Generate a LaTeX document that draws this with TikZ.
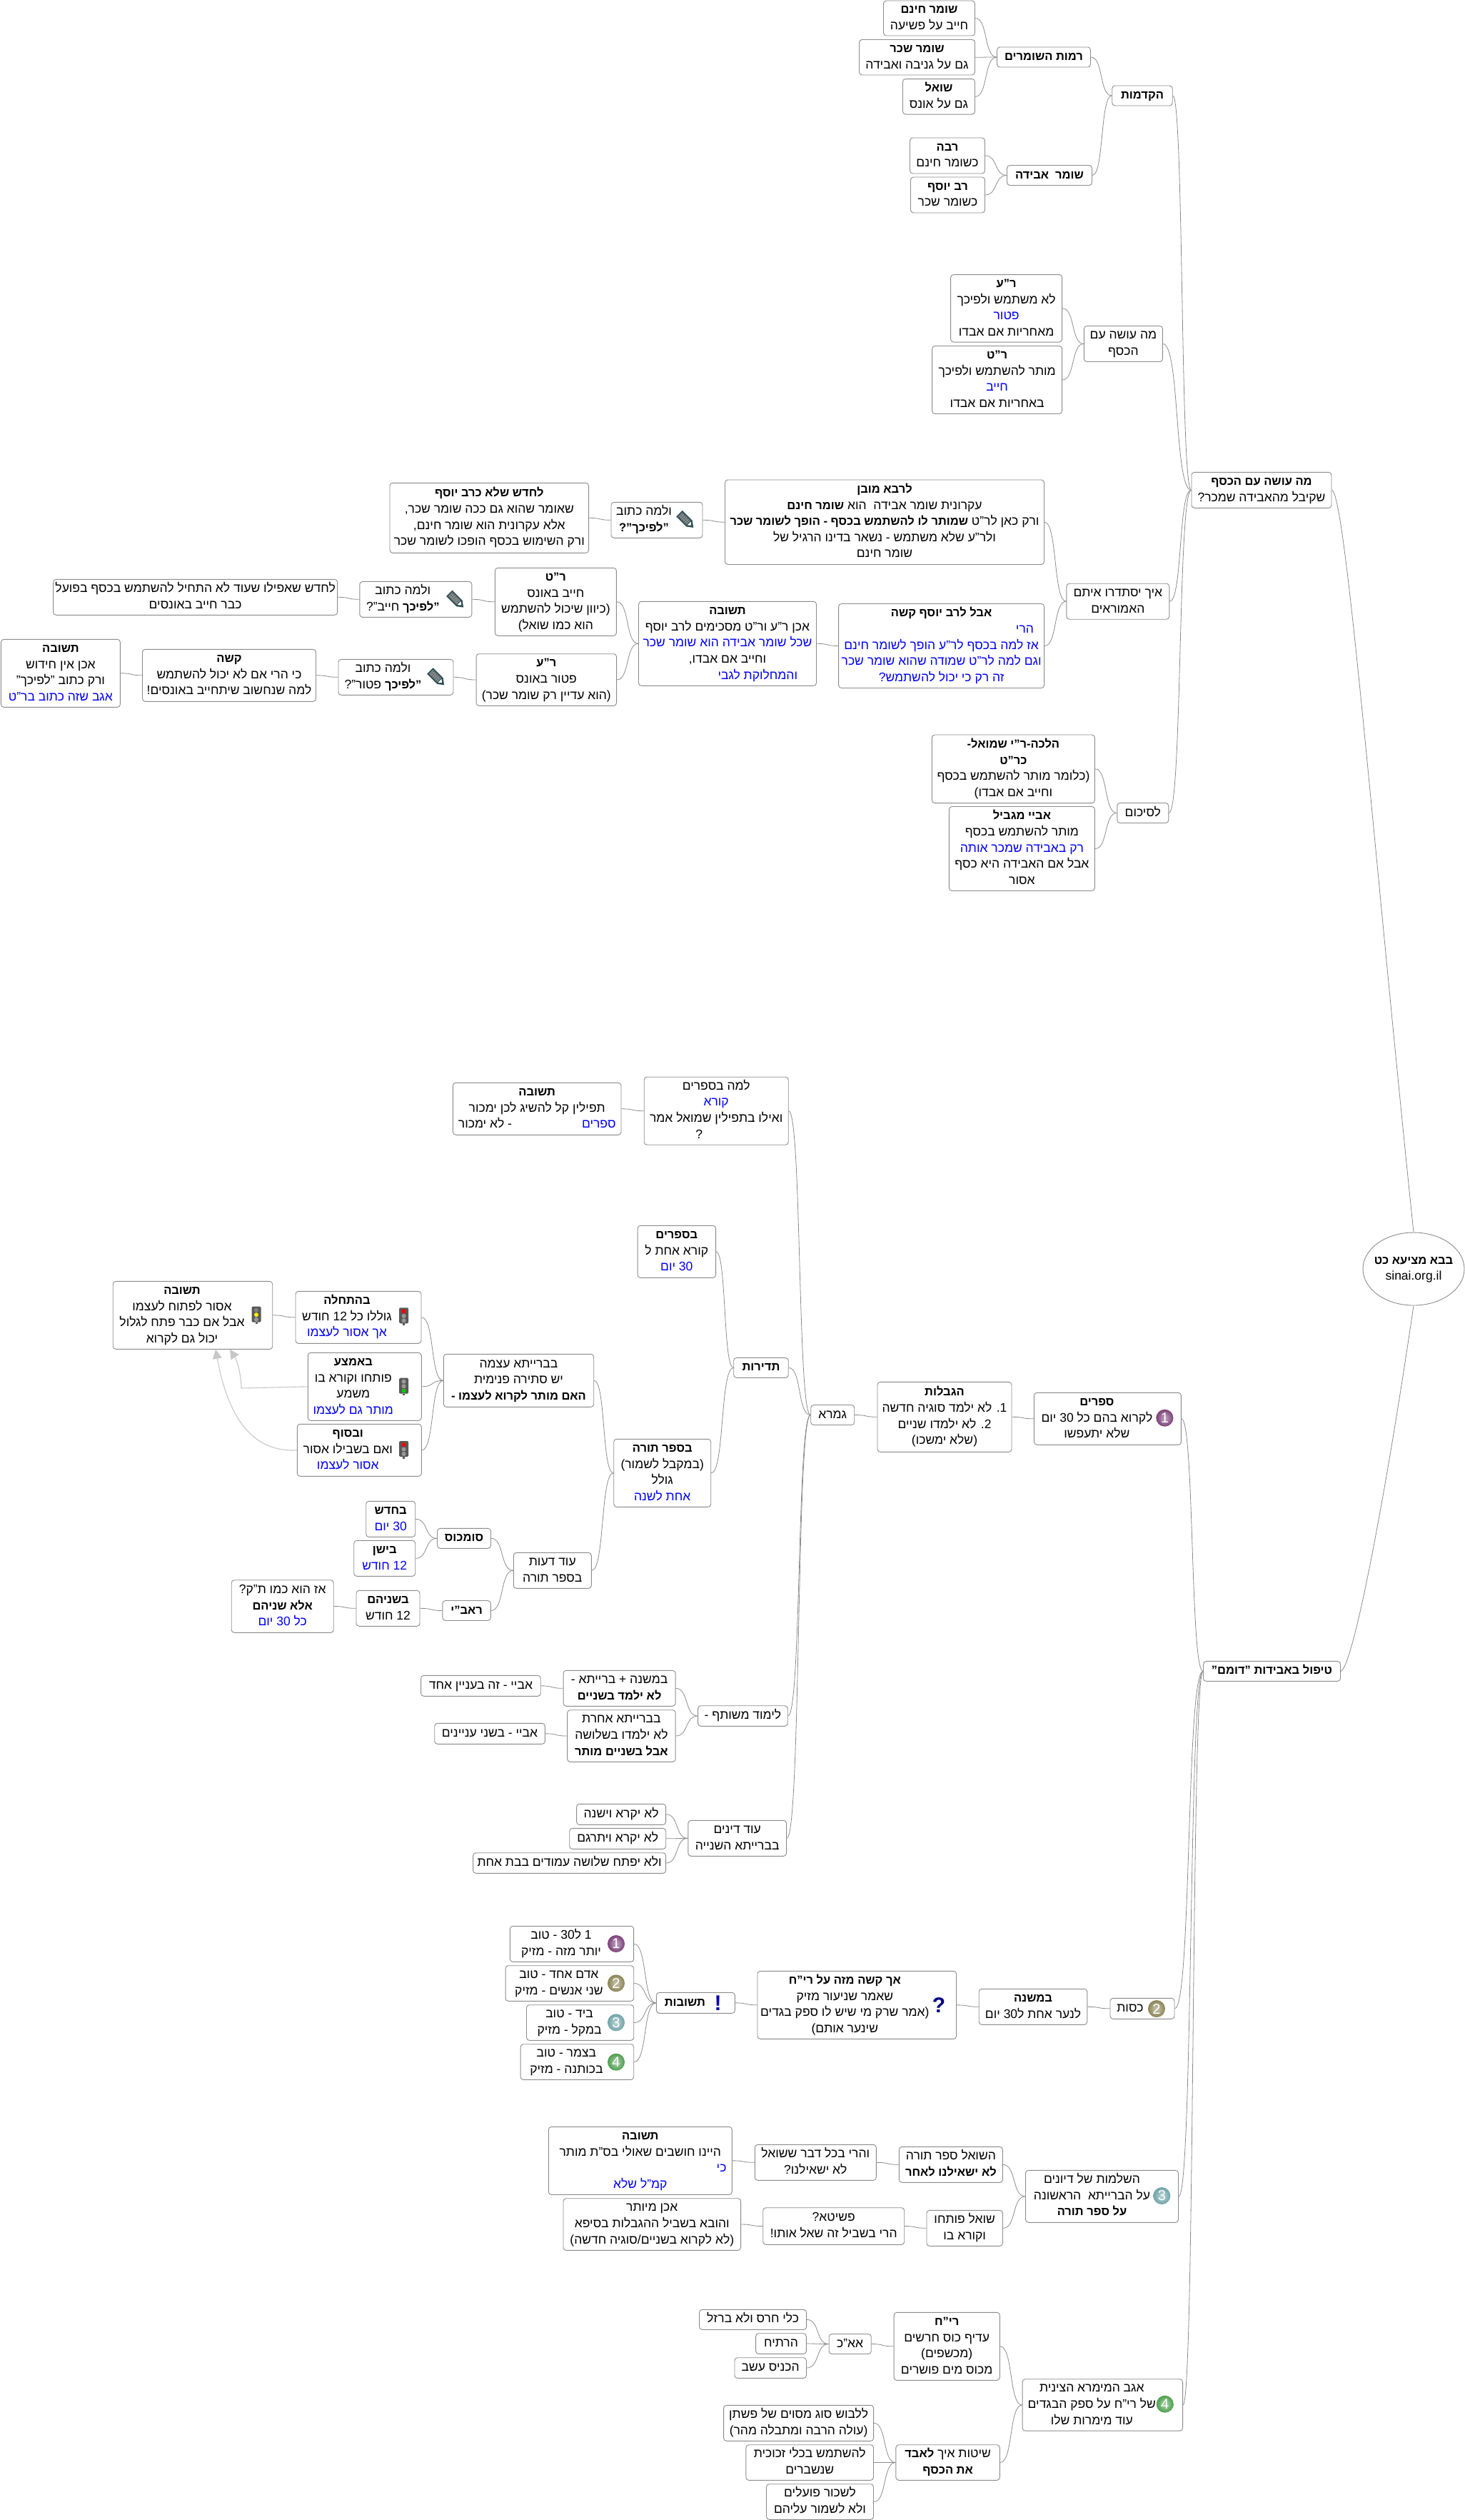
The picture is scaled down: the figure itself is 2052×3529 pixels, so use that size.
\documentclass[tikz,border=0pt]{standalone}
\usepackage{fontspec}
\setmainfont[Script=Hebrew]{Liberation Sans}
\usetikzlibrary{calc,arrows.meta,shapes.geometric}
\TeXXeTstate=1
\newcommand{\bo}[1]{{\fontsize{16.5}{22.6}\selectfont\bfseries #1}}
\newcommand{\rl}[1]{\strut\beginR #1\endR}
\newcommand{\rlb}[1]{\rl{\bo{#1}}}
\newcommand{\rlc}[1]{\strut\textcolor{blue}{\beginR #1\endR}}
\newcommand{\bl}[1]{\hbox{\textcolor{blue}{\beginR #1\endR}}}
\newcommand{\iconpad}[2]{\begin{tabular}{@{}c@{}}#2\end{tabular}\hspace*{#1pt}}
\definecolor{linkgray}{HTML}{8C8C8C}
\definecolor{ballone}{HTML}{7A3F78}
\definecolor{balltwo}{HTML}{8A8455}
\definecolor{ballthree}{HTML}{6FA3A8}
\definecolor{ballfour}{HTML}{4E9E4E}
\definecolor{pencildark}{HTML}{2F4F55}
\tikzset{
  topic/.style={draw=linkgray, fill=white, rounded corners=4pt, line width=0.9pt, inner sep=0pt, align=center, font=\fontsize{17.5}{22.6}\selectfont},
  sz/.style 2 args={minimum width=#1pt, minimum height=#2pt},
  link/.style={draw=linkgray, line width=0.8pt, to path={let \p1=(\tikztostart), \p2=(\tikztotarget), \n1={0.6*(\x2-\x1)} in .. controls (\x1+\n1,\y1) and (\x2-\n1,\y2) .. (\p2)}},
  backlink/.style={draw=black!22, line width=1.1pt, -{Triangle[length=13pt,width=13pt]}},
  bigmark/.style={inner sep=0pt, font=\bfseries\fontsize{30}{30}\selectfont},
  pics/numball/.style 2 args={code={
    \shade[inner color=#1!45!white, outer color=#1] (0,0) circle (12pt);
    \node[white, inner sep=0pt, font=\fontsize{20}{20}\selectfont] (-num) at (0,0) {#2};
  }},
  pics/trafficlight/.style n args={3}{code={
    \fill[black!65, rounded corners=1.5pt] (-6.5,-12) rectangle (6.5,10);
    \fill[black!65] (-1.5,10) rectangle (1.5,12.5);
    \fill[#1] (0,-7) circle (3pt);
    \fill[#2] (0,-0.5) circle (3pt);
    \fill[#3] (0,6) circle (3pt);
  }},
  pics/pencil/.style={code={
    \begin{scope}[rotate=45]
      \fill[pencildark] (-6,-13) -- (6,-13) -- (6,7) -- (0,15) -- (-6,7) -- cycle;
      \fill[black!45] (-4,-11) rectangle (4,5);
      \foreach \s in {-9,-6,...,3}{\draw[pencildark, line width=1pt, dash pattern=on 1.5pt off 1.5pt] (-4,\s)--(4,\s);}
      \fill[white] (-3.5,6.5) -- (3.5,6.5) -- (0,10.5) -- cycle;
    \end{scope}
  }}
}
\begin{document}
\begin{tikzpicture}[x=1pt,y=-1pt]
  \useasboundingbox (0,0) rectangle (2052,3529);
  \node[topic,sz={128}{49}] (shhinam) at (1301.5,25.5) {\rlb{שומר חינם}\\\rl{חייב על פשיעה}};
  \node[topic,sz={162}{49.5}] (shsakhar) at (1284.5,80.2) {\rlb{שומר שכר}\\\rl{גם על גניבה ואבידה}};
  \node[topic,sz={101}{49.5}] (shoel) at (1315,135.3) {\rlb{שואל}\\\rl{גם על אונס}};
  \node[topic,sz={131}{28}] (ramot) at (1462,80) {\rlb{רמות השומרים}};
  \node[topic,sz={84.5}{28}] (hakdamot) at (1600,134) {\rlb{הקדמות}};
  \node[topic,sz={105}{50}] (raba) at (1327,218) {\rlb{רבה}\\\rl{כשומר חינם}};
  \node[topic,sz={104}{50}] (ravyosef) at (1327.5,273) {\rlb{רב יוסף}\\\rl{כשומר שכר}};
  \node[topic,sz={119}{28}] (shomeraveda) at (1470,245.5) {\rlb{שומר\ \ אבידה}};
  \node[topic,sz={156}{94.5}] (rakiva) at (1409.6,431.8) {\rlb{ר"ע}\\\rl{לא משתמש ולפיכך}\\\rlc{פטור}\\\rl{מאחריות אם אבדו}};
  \node[topic,sz={182}{95}] (rtarfon) at (1396.6,532) {\rlb{ר"ט}\\\rl{מותר להשתמש ולפיכך}\\\rlc{חייב}\\\rl{באחריות אם אבדו}};
  \node[topic,sz={110}{50}] (maoseh) at (1573.4,481.5) {\rl{מה עושה עם}\\\rl{הכסף}};
  \node[topic,sz={196}{50}] (kesef) at (1767,686.3) {\rlb{מה עושה עם הכסף}\\\rl{שקיבל מהאבידה שמכר?}};
  \node[topic,sz={447}{118.5}] (lerava) at (1239,731.2) {\rlb{לרבא מובן}\\\rl{עקרונית שומר אבידה\ \ הוא \bo{שומר חינם}}\\\rl{ורק כאן לר"ט \bo{שמותר לו להשתמש בכסף - הופך לשומר שכר}}\\\rl{ולר"ע שלא משתמש - נשאר בדינו הרגיל של}\\\rl{שומר חינם}};
  \node[topic,sz={144}{50}] (eikh) at (1565.8,842.2) {\rl{איך יסתדרו איתם}\\\rl{האמוראים}};
  \node[topic,sz={288}{118}] (avallerav) at (1318.6,904.5) {\rlb{אבל לרב יוסף קשה}\\\rl{הרי \bl{כל שומר אבידה הוא שומר שכר!}}\\\rl{אז למה בכסף לר"ע הופך לשומר חינם}\\\rl{וגם למה לר"ט שמודה שהוא שומר שכר}\\\rl{זה רק כי יכול להשתמש?}};
  \node[topic,sz={249}{118}] (teshuvaA) at (1019,901.3) {\rlb{תשובה}\\\rl{אכן ר"ע ור"ט מסכימים לרב יוסף}\\\rlc{שכל שומר אבידה הוא שומר שכר}\\\rl{וחייב אם אבדו,}\\\rl{והמחלוקת לגבי\ \ \bl{לגבי אונס:}}};
  \node[topic,sz={228}{95.6}] (halakha) at (1419.4,1076.8) {\rlb{הלכה-ר"י שמואל-}\\\rlb{כר"ט}\\\rl{(כלומר מותר להשתמש בכסף}\\\rl{וחייב אם אבדו)}};
  \node[topic,sz={204}{118}] (abaye) at (1431.4,1188.5) {\rlb{אביי מגביל}\\\rl{מותר להשתמש בכסף}\\\rlc{רק באבידה שמכר אותה}\\\rl{אבל אם האבידה היא כסף}\\\rl{אסור}};
  \node[topic,sz={72}{28}] (sikum) at (1600.8,1138.5) {\rl{לסיכום}};
  \node[topic,sz={278.6}{98}] (lehadeshA) at (685.3,725.3) {\rlb{לחדש שלא כרב יוסף}\\\rl{שאומר שהוא גם ככה שומר שכר,}\\\rl{אלא עקרונית הוא שומר חינם,}\\\rl{ורק השימוש בכסף הופכו לשומר שכר}};
  \node[topic,sz={128}{50}] (velamaA) at (920,728.3) {\iconpad{36}{\rl{ולמה כתוב}\\\rlb{"לפיכך"?}}};
  \node[topic,sz={398}{50}] (lehadeshB) at (273.6,836.3) {\rl{לחדש שאפילו שעוד לא התחיל להשתמש בכסף בפועל}\\\rl{כבר חייב באונסים}};
  \node[topic,sz={157}{50}] (velamaB) at (582.3,839.3) {\iconpad{36}{\rl{ולמה כתוב}\\\rl{\bo{"לפיכך} חייב"?}}};
  \node[topic,sz={170}{95}] (rtarfonB) at (778.4,842.8) {\rlb{ר"ט}\\\rl{חייב באונס}\\\rl{(כיוון שיכול להשתמש}\\\rl{הוא כמו שואל)}};
  \node[topic,sz={196.5}{72.6}] (rakivaB) at (765.3,952) {\rlb{ר"ע}\\\rl{פטור באונס}\\\rl{(הוא עדיין רק שומר שכר)}};
  \node[topic,sz={161}{50}] (velamaC) at (554.5,948.3) {\iconpad{36}{\rl{ולמה כתוב}\\\rl{\bo{"לפיכך} פטור"?}}};
  \node[topic,sz={243}{73}] (kasha) at (321,945.8) {\rlb{קשה}\\\rl{כי הרי אם לא יכול להשתמש}\\\rl{למה שנחשוב שיתחייב באונסים!}};
  \node[topic,sz={167}{95}] (teshuvaB) at (84.9,942.8) {\rlb{תשובה}\\\rl{אכן אין חידוש}\\\rl{ורק כתוב "לפיכך"}\\\rlc{אגב שזה כתוב בר"ט}};
  \node[topic,sz={202}{95}] (lama) at (1003.2,1555.7) {\rl{למה בספרים}\\\rlc{קורא}\\\rl{ואילו בתפילין שמואל אמר}\\\rl{\bl{שמוכר}?}};
  \node[topic,sz={235.6}{73}] (teshuvaC) at (752.2,1552.8) {\rlb{תשובה}\\\rl{תפילין קל להשיג לכן ימכור}\\\rl{ספרים \bl{קשה להשיג}\ \ - לא ימכור}};
  \node[topic,sz={109.5}{73}] (bsfarim) at (947.8,1752.8) {\rlb{בספרים}\\\rl{קורא אחת ל}\\\rlc{30 יום}};
  \node[topic,sz={76.5}{28}] (tdirut) at (1066,1915.4) {\rlb{תדירות}};
  \node[topic,sz={210.4}{74}] (braita) at (726.5,1933.3) {\rl{בברייתא עצמה}\\\rl{יש סתירה פנימית}\\\rlb{האם מותר לקרוא לעצמו -}};
  \node[topic,sz={136}{95}] (bsefer) at (927.7,2062.8) {\rlb{בספר תורה}\\\rl{(במקבל לשמור)}\\\rl{גולל}\\\rlc{אחת לשנה}};
  \node[topic,sz={61}{28}] (gemara) at (1166.2,1981.5) {\rl{גמרא}};
  \node[topic,sz={188}{98}] (hagbalot) at (1323,1984.3) {\rlb{הגבלות}\\\rl{1. לא ילמד סוגיה חדשה}\\\rl{2. לא ילמדו שניים}\\\rl{(שלא ימשכו)}};
  \node[topic,sz={206}{73}] (sfarim) at (1551.4,1986.8) {\iconpad{30}{\rlb{ספרים}\\\rl{לקרוא בהם כל 30 יום}\\\rl{שלא יתעפשו}}};
  \node[topic,sz={223.5}{95}] (teshuvaD) at (270,1841.8) {\iconpad{30}{\rlb{תשובה}\\\rl{אסור לפתוח לעצמו}\\\rl{אבל אם כבר פתח לגלול}\\\rl{יכול גם לקרוא}}};
  \node[topic,sz={176}{73}] (hathala) at (502,1844.8) {\iconpad{32}{\rlb{בהתחלה}\\\rl{גוללו כל 12 חודש}\\\rlc{אך אסור לעצמו}}};
  \node[topic,sz={159}{95}] (emtza) at (510.8,1941.8) {\iconpad{32}{\rlb{באמצע}\\\rl{פותחו וקורא בו}\\\rl{משמע}\\\rlc{מותר גם לעצמו}}};
  \node[topic,sz={174}{73}] (basof) at (503.3,2030.8) {\iconpad{32}{\rlb{ובסוף}\\\rl{ואם בשבילו אסור}\\\rlc{אסור לעצמו}}};
  \node[topic,sz={69}{50}] (bahodesh) at (547.2,2127.3) {\rlb{בחדש}\\\rlc{30 יום}};
  \node[topic,sz={86}{50}] (bayashan) at (538.7,2182.3) {\rlb{בישן}\\\rlc{12 חודש}};
  \node[topic,sz={75}{28}] (sumkhos) at (650,2154.3) {\rlb{סומכוס}};
  \node[topic,sz={109}{50}] (oddeot) at (773.8,2199.3) {\rl{עוד דעות}\\\rl{בספר תורה}};
  \node[topic,sz={67.4}{28}] (ravi) at (653.6,2255.5) {\rlb{ראב"י}};
  \node[topic,sz={89}{50}] (shneihem) at (543.5,2252.3) {\rlb{בשניהם}\\\rl{12 חודש}};
  \node[topic,sz={143}{73.6}] (azhu) at (395.7,2249.5) {\rl{אז הוא כמו ת"ק?}\\\rlb{אלא שניהם}\\\rlc{כל 30 יום}};
  \node[topic,sz={167.6}{29}] (abayeA) at (673.4,2360.8) {\rl{אביי - זה בעניין אחד}};
  \node[topic,sz={157}{50}] (mishna) at (867.6,2364.3) {\rl{במשנה + ברייתא -}\\\rlb{לא ילמד בשניים}};
  \node[topic,sz={154.6}{29}] (abayeB) at (686,2427.8) {\rl{אביי - בשני עניינים}};
  \node[topic,sz={151.5}{72.6}] (braitaB) at (870.4,2431) {\rl{בברייתא אחרת}\\\rl{לא ילמדו בשלושה}\\\rlb{אבל בשניים מותר}};
  \node[topic,sz={125.6}{28.6}] (limud) at (1040.4,2403) {\rl{לימוד משותף -}};
  \node[topic,sz={125}{29}] (yikraA) at (870.1,2540.8) {\rl{לא יקרא וישנה}};
  \node[topic,sz={135}{29}] (yikraB) at (865.2,2574.8) {\rl{לא יקרא ויתרגם}};
  \node[topic,sz={270}{28.6}] (yiftah) at (797.6,2609) {\rl{ולא יפתח שלושה עמודים בבת אחת}};
  \node[topic,sz={137.7}{50}] (oddinim) at (1032.7,2574.3) {\rl{עוד דינים}\\\rl{בברייתא השנייה}};
  \node[topic,sz={173.3}{50}] (ansA) at (801,2722.3) {\iconpad{30}{\rl{1 ל30 - טוב}\\\rl{יותר מזה - מזיק}}};
  \node[topic,sz={179.7}{49.6}] (ansB) at (797.9,2777.5) {\iconpad{30}{\rl{אדם אחד - טוב}\\\rl{שני אנשים - מזיק}}};
  \node[topic,sz={150.2}{49.6}] (ansC) at (812.6,2832.5) {\iconpad{30}{\rl{ביד - טוב}\\\rl{במקל - מזיק}}};
  \node[topic,sz={158.7}{49.6}] (ansD) at (808.4,2887.5) {\iconpad{30}{\rl{בצמר - טוב}\\\rl{בכותנה - מזיק}}};
  \node[topic,sz={110}{29}] (tshuvot) at (974.4,2804.8) {\iconpad{30}{\rlb{תשובות}}};
  \node[topic,sz={278.6}{95}] (akhkasha) at (1200.3,2807.8) {\iconpad{34}{\rlb{אך קשה מזה על רי"ח}\\\rl{שאמר שניעור מזיק}\\\rl{(אמר שרק מי שיש לו ספק בגדים}\\\rl{שינער אותם)}}};
  \node[topic,sz={151.6}{50}] (bamishna) at (1447,2810.3) {\rlb{במשנה}\\\rl{לנער אחת ל30 יום}};
  \node[topic,sz={90}{29}] (ksut) at (1600,2812.8) {\iconpad{34}{\rl{כסות}}};
  \node[topic,sz={257}{95}] (teshuvaE) at (896.8,3025.8) {\rlb{תשובה}\\\rl{היינו חושבים שאולי בס"ת מותר}\\\rl{כי \bl{רוצה שיעשו מצווה בדברים שלו}}\\\rl{קמ"ל שלא}};
  \node[topic,sz={170}{50}] (vehari) at (1142.3,3028.3) {\rl{והרי בכל דבר ששואל}\\\rl{לא ישאילנו?}};
  \node[topic,sz={145}{50}] (hashoel) at (1331.9,3031.3) {\rl{השואל ספר תורה}\\\rlb{לא ישאילנו לאחר}};
  \node[topic,sz={248.6}{72.6}] (akhen) at (913.3,3115) {\rl{אכן מיותר}\\\rl{והובא בשביל ההגבלות בסיפא}\\\rl{(לא לקרוא בשניים/סוגיה חדשה)}};
  \node[topic,sz={198}{51.6}] (pshita) at (1167.7,3117.5) {\rl{פשיטא?}\\\rl{הרי בשביל זה שאל אותו!}};
  \node[topic,sz={106.5}{50}] (shoelpot) at (1351.2,3120.3) {\rl{שואל פותחו}\\\rl{וקורא בו}};
  \node[topic,sz={214}{73}] (hashlamot) at (1543.5,3075.8) {\iconpad{28}{\rl{השלמות של דיונים}\\\rl{על הברייתא\ \ הראשונה}\\\rlb{על ספר תורה}}};
  \node[topic,sz={150}{28}] (klei) at (1054.6,3248.3) {\rl{כלי חרס ולא ברזל}};
  \node[topic,sz={70.7}{28.6}] (hertiah) at (1094,3282) {\rl{הרתיח}};
  \node[topic,sz={100.5}{28.6}] (hikhnis) at (1079.2,3316) {\rl{הכניס עשב}};
  \node[topic,sz={59}{28}] (aakh) at (1190.7,3282.5) {\rl{אא"כ}};
  \node[topic,sz={148.3}{95}] (rih) at (1326.2,3285.8) {\rlb{רי"ח}\\\rl{עדיף כוס חרשים}\\\rl{(מכשפים)}\\\rl{מכוס מים פושרים}};
  \node[topic,sz={224.5}{72.4}] (agav) at (1544.3,3367.9) {\iconpad{30}{\rl{אגב המימרא הצינית}\\\rl{של רי"ח על ספק הבגדים}\\\rl{עוד מימרות שלו}}};
  \node[topic,sz={210}{50}] (lilbosh) at (1118.6,3393.3) {\rl{ללבוש סוג מסוים של פשתן}\\\rl{(עולה הרבה ומתבלה מהר)}};
  \node[topic,sz={178.6}{49.6}] (lehishtamesh) at (1134.2,3448.5) {\rl{להשתמש בכלי זכוכית}\\\rl{שנשברים}};
  \node[topic,sz={150}{49.6}] (liskor) at (1148.5,3503.5) {\rl{לשכור פועלים}\\\rl{ולא לשמור עליהם}};
  \node[topic,sz={145.5}{49.6}] (shitot) at (1327.6,3448.5) {\rl{שיטות איך \bo{לאבד}}\\\rlb{את הכסף}};
  \node[topic,sz={192}{28}] (tipul) at (1781.5,2340.4) {\rlb{טיפול באבידות "דומם"}};
  \node[topic,ellipse,sz={142}{102},inner xsep=-15pt,inner ysep=-10pt] (root) at (1980,1777) {\rlb{בבא מציעא כט}\\\strut sinai.org.il};
  \foreach \a/\b in {shhinam/ramot,shsakhar/ramot,shoel/ramot,raba/shomeraveda,ravyosef/shomeraveda,ramot/hakdamot,shomeraveda/hakdamot,rakiva/maoseh,rtarfon/maoseh,hakdamot/kesef,maoseh/kesef,eikh/kesef,sikum/kesef,lerava/eikh,avallerav/eikh,teshuvaA/avallerav,halakha/sikum,abaye/sikum,rtarfonB/teshuvaA,rakivaB/teshuvaA,velamaA/lerava,lehadeshA/velamaA,velamaB/rtarfonB,lehadeshB/velamaB,velamaC/rakivaB,kasha/velamaC,teshuvaB/kasha,teshuvaC/lama,lama/gemara,tdirut/gemara,limud/gemara,oddinim/gemara,bsfarim/tdirut,bsefer/tdirut,teshuvaD/hathala,hathala/braita,emtza/braita,basof/braita,braita/bsefer,oddeot/bsefer,bahodesh/sumkhos,bayashan/sumkhos,sumkhos/oddeot,ravi/oddeot,azhu/shneihem,shneihem/ravi,abayeA/mishna,abayeB/braitaB,mishna/limud,braitaB/limud,yikraA/oddinim,yikraB/oddinim,yiftah/oddinim,gemara/hagbalot,hagbalot/sfarim,sfarim/tipul,ansA/tshuvot,ansB/tshuvot,ansC/tshuvot,ansD/tshuvot,tshuvot/akhkasha,akhkasha/bamishna,bamishna/ksut,ksut/tipul,hashlamot/tipul,agav/tipul,teshuvaE/vehari,vehari/hashoel,hashoel/hashlamot,shoelpot/hashlamot,akhen/pshita,pshita/shoelpot,klei/aakh,hertiah/aakh,hikhnis/aakh,aakh/rih,rih/agav,shitot/agav,lilbosh/shitot,lehishtamesh/shitot,liskor/shitot}{\draw[link] (\a.east) to (\b.west);}
  \draw[link] (kesef.east) .. controls (1885,690) and (1925,1200) .. (root.north);
  \draw[link] (tipul.east) .. controls (1895,2335) and (1940,2100) .. (root.south);
  \draw[backlink] (emtza.west) -- (338,1944) .. controls (338,1925) and (332,1905) .. ([xshift=52pt]teshuvaD.south);
  \draw[backlink] (basof.west) .. controls (340,2035) and (315,1960) .. ([xshift=32pt]teshuvaD.south);
  \pic (ballsfarim) at (1631.4,1985.7) {numball={ballone}{1}};
  \pic (ballA) at (863,2722) {numball={ballone}{1}};
  \pic (ballB) at (863,2777.3) {numball={balltwo}{2}};
  \pic (ballC) at (863,2832.3) {numball={ballthree}{3}};
  \pic (ballD) at (863,2887.7) {numball={ballfour}{4}};
  \pic (ballksut) at (1620,2813) {numball={balltwo}{2}};
  \pic (ballhash) at (1627.3,3075) {numball={ballthree}{3}};
  \pic (ballagav) at (1631.7,3366.7) {numball={ballfour}{4}};
  \pic at (359,1841.7) {trafficlight={black!50}{yellow}{black!40}};
  \pic at (565.6,1843.3) {trafficlight={red}{black!40}{black!40}};
  \pic at (565.6,1941.7) {trafficlight={black!40}{black!40}{green!80!black}};
  \pic at (565.6,2030) {trafficlight={red}{black!40}{black!40}};
  \pic at (960.6,728.3) {pencil};
  \pic at (638.5,840) {pencil};
  \pic at (611.5,948.7) {pencil};
  \node[bigmark,text=blue!50!black] (qmark) at (1315,2808) {?};
  \node[bigmark,text=blue!70!black] (emark) at (1005.6,2805) {!};
\end{tikzpicture}
\end{document}
